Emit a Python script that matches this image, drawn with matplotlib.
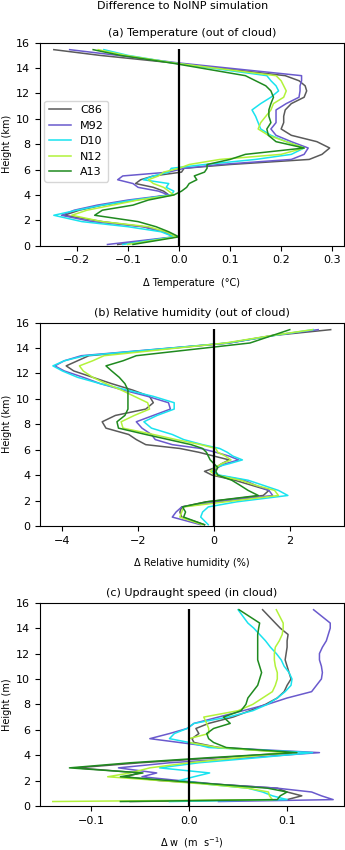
import matplotlib
matplotlib.use("Agg")
import matplotlib.pyplot as plt

# model levels (km) used for the out-of-cloud profiles
height_km = [0.1, 0.7, 1.1, 1.5, 1.9, 2.4, 2.8, 3.2, 3.6, 4.0, 4.3, 4.6, 4.9, 5.2, 5.5,
             5.8, 6.1, 6.4, 6.8, 7.2, 7.7, 8.2, 8.7, 9.2, 9.7, 10.2, 10.7, 11.2, 11.7,
             12.2, 12.6, 13.0, 13.4, 14.4, 15.0, 15.45]
# levels for the in-cloud updraught profiles
height_w = [0.35, 0.5, 0.8, 1.1, 1.4, 1.7, 2.0, 2.3, 2.6, 3.0, 3.4, 3.8, 4.2, 4.6, 5.0,
            5.3, 5.7, 6.1, 6.5, 7.0, 7.5, 8.0, 8.5, 9.0, 9.5, 10.0, 10.5, 11.0, 11.5,
            12.0, 12.5, 13.0, 13.5, 14.0, 14.4, 15.45]

schemes = ["C86", "M92", "D10", "N12", "A13"]
colours = ["#5a5a5a", "#6a5acd", "#19e3ef", "#b2f23a", "#1f8a1f"]

# (a) temperature difference (degC)
temp_c86 = [-0.12, -0.005, -0.03, -0.07, -0.15, -0.225, -0.195, -0.15, -0.085, -0.02, -0.03, -0.05,
            -0.085, -0.075, -0.05, 0.005, 0.01, 0.1, 0.255, 0.28, 0.295, 0.27, 0.22, 0.2, 0.205,
            0.205, 0.208, 0.22, 0.245, 0.25, 0.247, 0.235, 0.208, -0.01, -0.155, -0.245]
temp_m92 = [-0.14, -0.01, -0.03, -0.07, -0.17, -0.23, -0.205, -0.16, -0.1, -0.02, -0.04, -0.08,
            -0.09, -0.12, -0.11, -0.02, 0.01, 0.08, 0.22, 0.245, 0.253, 0.22, 0.19, 0.18, 0.19,
            0.19, 0.19, 0.21, 0.235, 0.237, 0.237, 0.24, 0.24, 0.0, -0.12, -0.214]
temp_d10 = [-0.11, -0.01, -0.035, -0.1, -0.19, -0.245, -0.2, -0.15, -0.09, -0.015, -0.01, -0.025,
            -0.02, -0.07, -0.05, -0.02, -0.015, 0.05, 0.15, 0.22, 0.245, 0.21, 0.18, 0.16, 0.155,
            0.15, 0.143, 0.16, 0.18, 0.195, 0.19, 0.18, 0.172, -0.01, -0.1, -0.147]
temp_n12 = [-0.1, -0.005, -0.025, -0.06, -0.15, -0.21, -0.18, -0.13, -0.08, -0.01, -0.02, -0.03,
            -0.05, -0.06, -0.04, -0.03, 0.0, 0.02, 0.08, 0.2, 0.245, 0.21, 0.175, 0.155, 0.16,
            0.17, 0.18, 0.185, 0.205, 0.21, 0.205, 0.2, 0.19, -0.01, -0.105, -0.158]
temp_a13 = [-0.09, 0.0, -0.02, -0.045, -0.08, -0.165, -0.15, -0.09, -0.06, -0.01, 0.005, 0.015,
            0.02, 0.035, 0.03, 0.05, 0.055, 0.055, 0.1, 0.13, 0.245, 0.19, 0.175, 0.172, 0.18,
            0.176, 0.176, 0.18, 0.185, 0.18, 0.17, 0.15, 0.13, -0.015, -0.115, -0.168]

# (b) relative humidity difference (%)
rh_c86 = [-0.25, -0.85, -0.9, -0.85, -0.2, 1.3, 1.45, 1.0, 0.55, -0.05, -0.25, 0.05, 0.2, 0.4,
          0.0, -0.4, -0.9, -1.8, -2.05, -2.25, -2.85, -2.95, -2.6, -1.8, -1.6, -1.7, -2.15,
          -2.7, -3.2, -3.7, -3.9, -3.6, -3.3, 0.4, 1.6, 3.08]
rh_m92 = [-0.35, -1.1, -1.0, -0.85, 0.1, 1.55, 1.45, 1.1, 0.8, 0.1, 0.0, 0.1, 0.3, 0.65, 0.4,
          0.05, -0.35, -1.1, -1.55, -1.65, -1.9, -2.05, -1.6, -1.15, -1.2, -1.75, -2.4, -3.0,
          -3.45, -3.95, -4.2, -3.95, -3.5, 0.4, 1.55, 2.75]
rh_d10 = [-0.15, -0.35, -0.3, -0.15, 0.6, 1.95, 1.7, 1.3, 0.9, 0.15, -0.05, 0.0, 0.4, 0.75, 0.5,
          0.35, 0.15, -0.3, -0.8, -1.1, -1.65, -1.85, -1.5, -1.05, -1.05, -1.6, -2.3, -3.0,
          -3.6, -4.0, -4.25, -3.95, -3.4, 0.35, 1.6, 2.62]
rh_n12 = [-0.3, -0.9, -0.85, -0.8, 0.3, 1.7, 1.6, 1.1, 0.7, 0.05, -0.1, 0.05, 0.2, 0.45, 0.3,
          0.1, 0.05, -0.35, -1.0, -1.6, -2.4, -2.45, -2.1, -1.7, -1.75, -2.1, -2.45, -2.85,
          -3.2, -3.45, -3.55, -3.2, -2.9, 0.3, 1.55, 2.6]
rh_a13 = [-0.25, -0.8, -0.75, -0.83, -0.2, 1.17, 0.9, 0.69, 0.47, 0.1, 0.05, 0.1, 0.0, -0.1,
          -0.15, -0.2, -0.3, -0.6, -1.2, -1.8, -2.52, -2.56, -2.35, -2.27, -2.27, -2.27, -2.27,
          -2.35, -2.5, -2.7, -2.85, -2.4, -2.05, 0.95, 1.55, 2.0]

# (c) updraught speed difference (m/s)
w_c86 = [-0.06, 0.1, 0.115, 0.1, 0.09, 0.03, -0.03, -0.065, -0.05, -0.115, -0.05, 0.03, 0.105,
         0.03, 0.005, 0.003, 0.01, 0.007, 0.02, 0.045, 0.062, 0.078, 0.09, 0.097, 0.1, 0.104,
         0.102, 0.1, 0.098, 0.099, 0.1, 0.1, 0.101, 0.093, 0.088, 0.075]
w_m92 = [0.03, 0.147, 0.135, 0.125, 0.09, 0.03, -0.01, -0.048, -0.033, -0.072, -0.02, 0.06, 0.133,
         0.03, -0.01, -0.04, -0.02, -0.002, 0.005, 0.03, 0.055, 0.08, 0.1, 0.125, 0.13, 0.135,
         0.136, 0.135, 0.133, 0.133, 0.136, 0.14, 0.142, 0.144, 0.144, 0.127]
w_d10 = [-0.02, 0.1, 0.085, 0.075, 0.06, 0.02, -0.01, 0.005, 0.021, -0.03, 0.01, 0.07, 0.126,
         0.02, 0.0, -0.02, -0.015, -0.002, 0.005, 0.04, 0.065, 0.08, 0.09, 0.098, 0.104, 0.105,
         0.102, 0.097, 0.094, 0.089, 0.083, 0.078, 0.072, 0.066, 0.06, 0.05]
w_n12 = [-0.139, 0.085, 0.082, 0.081, 0.06, 0.02, -0.03, -0.083, -0.06, -0.04, 0.0, 0.05, 0.1,
         0.03, 0.0, 0.0, 0.02, 0.02, 0.018, 0.015, 0.05, 0.065, 0.075, 0.085, 0.088, 0.09, 0.09,
         0.088, 0.087, 0.087, 0.088, 0.092, 0.095, 0.096, 0.096, 0.089]
w_a13 = [-0.07, 0.09, 0.093, 0.1, 0.08, 0.03, -0.02, -0.07, -0.047, -0.122, -0.06, 0.02, 0.11,
         0.038, 0.025, 0.02, 0.018, 0.025, 0.042, 0.035, 0.053, 0.058, 0.06, 0.065, 0.07, 0.072,
         0.074, 0.072, 0.07, 0.07, 0.07, 0.07, 0.07, 0.071, 0.072, 0.051]

zero_line_top = 15.5

panels = [
    dict(title="(a) Temperature (out of cloud)", xlabel="Δ Temperature  (°C)",
         ylabel="Height (km)", heights=height_km,
         series=[temp_c86, temp_m92, temp_d10, temp_n12, temp_a13],
         xlim=(-0.272, 0.323), xticks=[-0.2, -0.1, 0.0, 0.1, 0.2, 0.3],
         rect=[0.116, 0.7109, 0.881, 0.2389], xpad=9),
    dict(title="(b) Relative humidity (out of cloud)", xlabel="Δ Relative humidity (%)",
         ylabel="Height (km)", heights=height_km,
         series=[rh_c86, rh_m92, rh_d10, rh_n12, rh_a13],
         xlim=(-4.59, 3.43), xticks=[-4, -2, 0, 2],
         rect=[0.116, 0.3812, 0.881, 0.2392], xpad=9),
    dict(title="(c) Updraught speed (in cloud)", xlabel="Δ w  (m  s$^{-1}$)",
         ylabel="Height (m)", heights=height_w,
         series=[w_c86, w_m92, w_d10, w_n12, w_a13],
         xlim=(-0.152, 0.158), xticks=[-0.1, 0.0, 0.1],
         rect=[0.116, 0.0518, 0.881, 0.2391], xpad=7),
]

fig = plt.figure(figsize=(3.45, 8.5), dpi=100)
fig.text(0.53, 1 - 6 / 850, "Difference to NoINP simulation", ha="center", va="center",
         fontsize=8)

for i, p in enumerate(panels):
    ax = fig.add_axes(p["rect"])
    for name, colour, values in zip(schemes, colours, p["series"]):
        ax.plot(values, p["heights"], color=colour, lw=1.1, label=name)
    ax.vlines(0, 0, zero_line_top, color="black", lw=1.6, zorder=5)
    ax.set_xlim(*p["xlim"])
    ax.set_ylim(0, 16)
    ax.set_xticks(p["xticks"])
    ax.set_yticks(range(0, 17, 2))
    ax.tick_params(labelsize=8, length=3.5)
    ax.set_title(p["title"], fontsize=8, pad=5)
    ax.set_xlabel(p["xlabel"], fontsize=7, labelpad=p["xpad"])
    ax.set_ylabel(p["ylabel"], fontsize=7, labelpad=3)
    if i == 0:
        ax.legend(loc="center left", bbox_to_anchor=(0.0, 0.515), fontsize=8,
                  handlelength=2.0, borderaxespad=0.4)

fig.savefig("out.png", dpi=100)
